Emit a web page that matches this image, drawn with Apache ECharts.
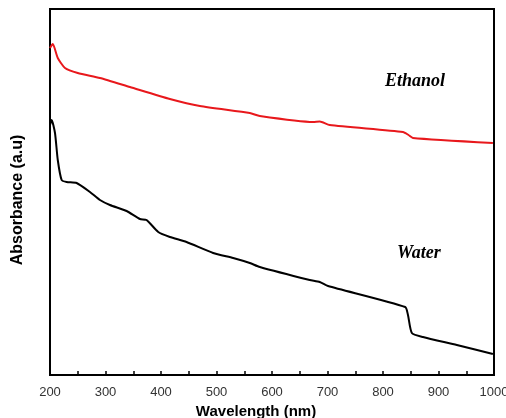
<!DOCTYPE html>
<html>
<head>
<meta charset="utf-8">
<script src="https://cdn.jsdelivr.net/npm/echarts@6/dist/echarts.min.js"></script>
<style>
    html, body { margin: 0; padding: 0; background: #fff; }
    #chart { width: 506px; height: 418px; }
</style>
</head>
<body>
<div id="chart"></div>
<script>
// wavelength (nm) / absorbance (a.u.)
const ethanolX = [200, 205, 214, 227, 250, 290, 344, 416, 470, 560, 578, 674, 686, 704, 836, 846, 854, 998]
const ethanolY = [327, 331, 317, 307, 302, 297, 288, 276, 269, 262, 259, 253, 253.5, 250, 243, 240, 237, 232]
const waterX = [200, 203, 209, 214, 221, 230, 248, 272, 290, 308, 338, 362, 374, 395, 416, 446, 494, 530, 560, 578, 668, 686, 701, 840, 845, 852, 872, 933, 998]
const waterY = [250, 255, 242, 215, 195, 193, 192, 183, 175, 170, 164, 156, 155, 143, 138, 133, 122, 117, 112, 108, 95, 93, 89, 68, 60, 42, 38, 30, 21]
const xTicks = [200, 300, 400, 500, 600, 700, 800, 900, 1000]

const pairs = (xs, ys) => xs.map((x, i) => [x, ys[i]])

let dom = echarts.init(document.getElementById('chart'))
let option = {
    animation: false,
    grid: {
        left: 50,
        right: 12,
        top: 9,
        bottom: 43,
        outerBoundsMode: 'none',
        show: true,
        borderColor: '#000',
        borderWidth: 2
    },
    xAxis: {
        type: 'value',
        min: 200,
        max: 1000,
        interval: 100,
        name: 'Wavelength (nm)',
        nameLocation: 'middle',
        nameGap: 26,
        nameTextStyle: {
            fontFamily: 'Liberation Sans',
            fontWeight: 'bold',
            fontSize: 15,
            color: '#000',
            padding: [0, 32, 0, 0]
        },
        axisLine: { lineStyle: { color: '#000', width: 2 } },
        axisTick: { inside: true, length: 4, lineStyle: { color: '#000', width: 1.5 } },
        minorTick: { show: true, splitNumber: 2, length: 4, lineStyle: { color: '#000', width: 1.5 } },
        axisLabel: {
            fontFamily: 'Liberation Sans',
            fontSize: 13,
            color: '#333',
            margin: 11,
            formatter: v => xTicks.includes(v) ? String(v) : ''
        },
        splitLine: { show: false }
    },
    yAxis: {
        type: 'value',
        min: 0,
        max: 366,
        name: 'Absorbance (a.u)',
        nameLocation: 'middle',
        nameGap: 24,
        nameTextStyle: {
            fontFamily: 'Liberation Sans',
            fontWeight: 'bold',
            fontSize: 16,
            color: '#000',
            padding: [0, 16, 0, 0]
        },
        axisLine: { show: true, lineStyle: { color: '#000', width: 2 } },
        axisTick: { show: false },
        axisLabel: { show: false },
        splitLine: { show: false }
    },
    series: [
        {
            name: 'Ethanol',
            type: 'line',
            data: pairs(ethanolX, ethanolY),
            symbol: 'none',
            smooth: 0.2,
            lineStyle: { color: '#e8181c', width: 2 }
        },
        {
            name: 'Water',
            type: 'line',
            data: pairs(waterX, waterY),
            symbol: 'none',
            smooth: 0.2,
            lineStyle: { color: '#000', width: 2 }
        }
    ],
    graphic: [
        {
            type: 'text',
            left: 385,
            top: 72,
            style: {
                text: 'Ethanol',
                font: 'italic bold 18px "Liberation Serif"',
                fill: '#000'
            }
        },
        {
            type: 'text',
            left: 397,
            top: 244,
            style: {
                text: 'Water',
                font: 'italic bold 18px "Liberation Serif"',
                fill: '#000'
            }
        }
    ]
}
dom.setOption(option)
</script>
</body>
</html>
